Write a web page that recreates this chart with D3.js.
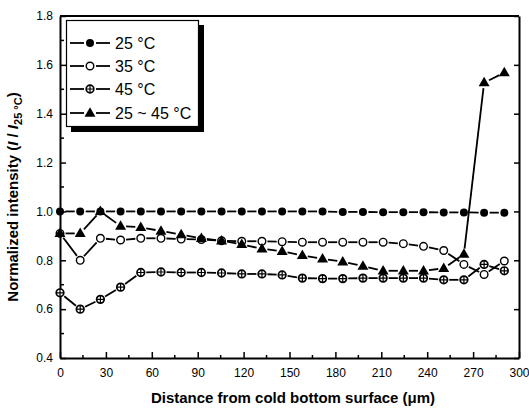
<!DOCTYPE html>
<html>
<head>
<meta charset="utf-8">
<script src="https://cdn.jsdelivr.net/npm/d3@7"></script>
<style>
  body { margin: 0; background: #fff; }
  text { font-family: Arial, "Liberation Sans", sans-serif; fill: #000; }
</style>
</head>
<body>
<div class="chart"></div>
<script>
var svgWidth = 529;
var svgHeight = 410;

// plot frame in pixels
var margin = { top: 16, right: 10, bottom: 52, left: 60 };
var width = svgWidth - margin.left - margin.right;
var height = svgHeight - margin.top - margin.bottom;

// distance from cold bottom surface (um)
var distance = [0, 13.2, 26.4, 39.6, 52.8, 66, 79.2, 92.4, 105.6, 118.8, 132, 145.2,
  158.4, 171.6, 184.8, 198, 211.2, 224.4, 237.6, 250.8, 264, 277.2, 290.4];

var t25 = [1.0, 1.0, 1.0, 1.0, 1.0, 1.0, 1.0, 1.0, 1.0, 1.0, 1.0, 1.0,
  1.0, 1.0, 0.998, 0.998, 0.997, 0.997, 0.997, 0.996, 0.996, 0.995, 0.995];
var t35 = [0.91, 0.80, 0.89, 0.883, 0.89, 0.89, 0.887, 0.885, 0.88, 0.878, 0.878, 0.876,
  0.874, 0.874, 0.874, 0.874, 0.874, 0.868, 0.857, 0.84, 0.783, 0.742, 0.797];
var t45 = [0.667, 0.60, 0.64, 0.69, 0.75, 0.752, 0.75, 0.75, 0.748, 0.744, 0.744, 0.74,
  0.727, 0.725, 0.725, 0.727, 0.727, 0.727, 0.727, 0.72, 0.72, 0.783, 0.757];
var tGrad = [0.91, 0.91, 1.0, 0.94, 0.935, 0.92, 0.905, 0.89, 0.88, 0.865, 0.847, 0.837,
  0.82, 0.806, 0.794, 0.776, 0.757, 0.757, 0.757, 0.767, 0.825, 1.527, 1.568];

var seriesNames = ["25 °C", "35 °C", "45 °C", "25 ~ 45 °C"];
var seriesMarks = ["filled", "open", "cross", "triangle"];
var seriesValues = [t25, t35, t45, tGrad];

var xTicks = [0, 30, 60, 90, 120, 150, 180, 210, 240, 270, 300];
var yTicks = [0.4, 0.6, 0.8, 1.0, 1.2, 1.4, 1.6, 1.8];

var svg = d3.select(".chart")
  .append("svg")
  .attr("width", svgWidth)
  .attr("height", svgHeight);

var chartGroup = svg.append("g")
  .attr("transform", `translate(${margin.left}, ${margin.top})`);

var xScale = d3.scaleLinear().domain([0, 300]).range([0, width]);
var yScale = d3.scaleLinear().domain([0.4, 1.8]).range([height, 0]);

// bottom axis, ticks pointing inward
var xAxis = chartGroup.append("g")
  .attr("transform", `translate(0, ${height})`)
  .call(d3.axisBottom(xScale).tickValues(xTicks).tickSizeInner(-6).tickSizeOuter(0)
    .tickPadding(10).tickFormat(d3.format("d")));
xAxis.selectAll(".tick text").attr("font-size", 12);
xAxis.append("g").selectAll("line")
  .data(d3.range(15, 300, 30))
  .enter().append("line")
  .attr("x1", d => xScale(d)).attr("x2", d => xScale(d))
  .attr("y1", 0).attr("y2", -3)
  .attr("stroke", "#000").attr("stroke-width", 1.5);

// left axis, ticks pointing inward
var yAxis = chartGroup.append("g")
  .call(d3.axisLeft(yScale).tickValues(yTicks).tickSizeInner(-6).tickSizeOuter(0)
    .tickPadding(7).tickFormat(d3.format(".1f")));
yAxis.selectAll(".tick text").attr("font-size", 12);
yAxis.append("g").selectAll("line")
  .data([0.5, 0.7, 0.9, 1.1, 1.3, 1.5, 1.7])
  .enter().append("line")
  .attr("x1", 0).attr("x2", 4)
  .attr("y1", d => yScale(d)).attr("y2", d => yScale(d))
  .attr("stroke", "#000").attr("stroke-width", 1.5);

// right axis
var rAxis = chartGroup.append("g")
  .attr("transform", `translate(${width}, 0)`)
  .call(d3.axisRight(yScale).tickValues(yTicks).tickSizeInner(-5).tickSizeOuter(0)
    .tickFormat(""));

chartGroup.selectAll(".domain").attr("stroke-width", 2);
chartGroup.selectAll(".tick line").attr("stroke-width", 1.5);

// top frame line
chartGroup.append("line")
  .attr("x1", 0).attr("x2", width).attr("y1", 0).attr("y2", 0)
  .attr("stroke", "#000").attr("stroke-width", 2);

// series lines: segments between points, with a gap at every marker
var gap = 5.5;
function drawSegments(g, vals) {
  var pts = vals.map((v, i) => [xScale(distance[i]), yScale(v)]);
  d3.pairs(pts).forEach(function(p) {
    var dx = p[1][0] - p[0][0], dy = p[1][1] - p[0][1];
    var len = Math.sqrt(dx * dx + dy * dy);
    if (len <= 2 * gap) return;
    var ux = dx / len, uy = dy / len;
    g.append("line")
      .attr("x1", p[0][0] + ux * gap).attr("y1", p[0][1] + uy * gap)
      .attr("x2", p[1][0] - ux * gap).attr("y2", p[1][1] - uy * gap)
      .attr("stroke", "#000").attr("stroke-width", 1.8);
  });
}

seriesValues.forEach(function(vals) {
  drawSegments(chartGroup.append("g"), vals);
});

function drawMarker(g, kind, cx, cy) {
  if (kind === "filled") {
    g.append("circle").attr("cx", cx).attr("cy", cy).attr("r", 4)
      .attr("fill", "#000");
  }
  else if (kind === "open") {
    g.append("circle").attr("cx", cx).attr("cy", cy).attr("r", 3.8)
      .attr("fill", "#fff").attr("stroke", "#000").attr("stroke-width", 1.4);
  }
  else if (kind === "cross") {
    g.append("circle").attr("cx", cx).attr("cy", cy).attr("r", 3.8)
      .attr("fill", "#fff").attr("stroke", "#000").attr("stroke-width", 1.7);
    g.append("path")
      .attr("d", `M${cx - 3.8},${cy}H${cx + 3.8}M${cx},${cy - 3.8}V${cy + 3.8}`)
      .attr("stroke", "#000").attr("stroke-width", 1.2);
  }
  else {
    g.append("path")
      .attr("d", d3.symbol().type(d3.symbolTriangle).size(52))
      .attr("transform", `translate(${cx}, ${cy + 0.5})`)
      .attr("fill", "#000");
  }
}

seriesValues.forEach(function(vals, s) {
  var g = chartGroup.append("g");
  vals.forEach(function(v, i) {
    drawMarker(g, seriesMarks[s], xScale(distance[i]), yScale(v));
  });
});

// legend with drop shadow
var legend = svg.append("g");
legend.append("rect")
  .attr("x", 71).attr("y", 25).attr("width", 133).attr("height", 107)
  .attr("fill", "#000");
legend.append("rect")
  .attr("x", 66.5).attr("y", 20.5).attr("width", 132).attr("height", 106)
  .attr("fill", "#fff").attr("stroke", "#000").attr("stroke-width", 1.2);

var rowY = [43, 66, 89, 113];
seriesNames.forEach(function(name, s) {
  var y = rowY[s];
  legend.append("line")
    .attr("x1", 70).attr("x2", 84).attr("y1", y).attr("y2", y)
    .attr("stroke", "#000").attr("stroke-width", 1.8);
  legend.append("line")
    .attr("x1", 96).attr("x2", 110).attr("y1", y).attr("y2", y)
    .attr("stroke", "#000").attr("stroke-width", 1.8);
  drawMarker(legend, seriesMarks[s], 90, y);
  legend.append("text")
    .attr("x", 115).attr("y", y + 6)
    .attr("font-size", 16)
    .text(name);
});

// axis titles
svg.append("text")
  .attr("x", 293).attr("y", 403)
  .attr("text-anchor", "middle")
  .attr("font-size", 15)
  .attr("font-weight", "bold")
  .text("Distance from cold bottom surface (\u03bcm)");

var yTitle = svg.append("text")
  .attr("transform", "translate(18, 197) rotate(-90)")
  .attr("text-anchor", "middle")
  .attr("font-size", 15)
  .attr("font-weight", "bold");
yTitle.append("tspan").text("Normalized intensity (");
yTitle.append("tspan").attr("font-style", "italic").text("I");
yTitle.append("tspan").text(" / ");
yTitle.append("tspan").attr("font-style", "italic").text("I");
yTitle.append("tspan").attr("font-size", 11).attr("dy", 4).text("25 °C");
yTitle.append("tspan").attr("dy", -4).text(")");
</script>
</body>
</html>
